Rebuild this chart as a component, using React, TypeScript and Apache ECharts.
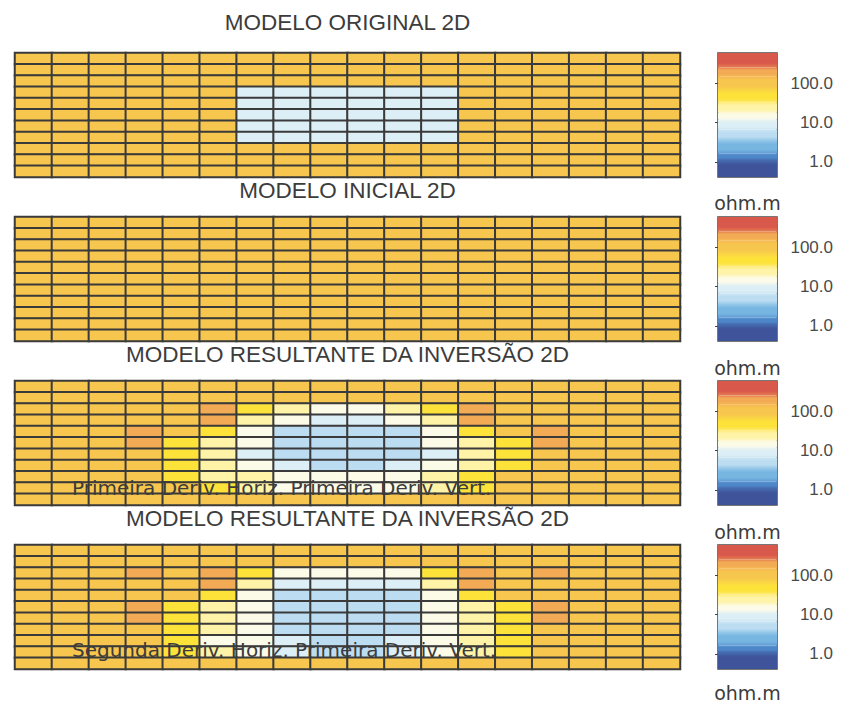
import React, { useEffect, useRef } from "react";
import * as echarts from "echarts";

// Cell labels along the profile (columns) and depth (rows)
const columnLabels = ["1", "2", "3", "4", "5", "6", "7", "8", "9", "10", "11", "12", "13", "14", "15", "16", "17", "18"];
const rowLabels = ["1", "2", "3", "4", "5", "6", "7", "8", "9", "10", "11"];

// Resistivity models, ohm.m, one row per depth level (top to bottom)
const originalModel: number[][] = [
  [100, 100, 100, 100, 100, 100, 100, 100, 100, 100, 100, 100, 100, 100, 100, 100, 100, 100],
  [100, 100, 100, 100, 100, 100, 100, 100, 100, 100, 100, 100, 100, 100, 100, 100, 100, 100],
  [100, 100, 100, 100, 100, 100, 100, 100, 100, 100, 100, 100, 100, 100, 100, 100, 100, 100],
  [100, 100, 100, 100, 100, 100, 10, 10, 10, 10, 10, 10, 100, 100, 100, 100, 100, 100],
  [100, 100, 100, 100, 100, 100, 10, 10, 10, 10, 10, 10, 100, 100, 100, 100, 100, 100],
  [100, 100, 100, 100, 100, 100, 10, 10, 10, 10, 10, 10, 100, 100, 100, 100, 100, 100],
  [100, 100, 100, 100, 100, 100, 10, 10, 10, 10, 10, 10, 100, 100, 100, 100, 100, 100],
  [100, 100, 100, 100, 100, 100, 10, 10, 10, 10, 10, 10, 100, 100, 100, 100, 100, 100],
  [100, 100, 100, 100, 100, 100, 100, 100, 100, 100, 100, 100, 100, 100, 100, 100, 100, 100],
  [100, 100, 100, 100, 100, 100, 100, 100, 100, 100, 100, 100, 100, 100, 100, 100, 100, 100],
  [100, 100, 100, 100, 100, 100, 100, 100, 100, 100, 100, 100, 100, 100, 100, 100, 100, 100],
];

const initialModel: number[][] = [
  [100, 100, 100, 100, 100, 100, 100, 100, 100, 100, 100, 100, 100, 100, 100, 100, 100, 100],
  [100, 100, 100, 100, 100, 100, 100, 100, 100, 100, 100, 100, 100, 100, 100, 100, 100, 100],
  [100, 100, 100, 100, 100, 100, 100, 100, 100, 100, 100, 100, 100, 100, 100, 100, 100, 100],
  [100, 100, 100, 100, 100, 100, 100, 100, 100, 100, 100, 100, 100, 100, 100, 100, 100, 100],
  [100, 100, 100, 100, 100, 100, 100, 100, 100, 100, 100, 100, 100, 100, 100, 100, 100, 100],
  [100, 100, 100, 100, 100, 100, 100, 100, 100, 100, 100, 100, 100, 100, 100, 100, 100, 100],
  [100, 100, 100, 100, 100, 100, 100, 100, 100, 100, 100, 100, 100, 100, 100, 100, 100, 100],
  [100, 100, 100, 100, 100, 100, 100, 100, 100, 100, 100, 100, 100, 100, 100, 100, 100, 100],
  [100, 100, 100, 100, 100, 100, 100, 100, 100, 100, 100, 100, 100, 100, 100, 100, 100, 100],
  [100, 100, 100, 100, 100, 100, 100, 100, 100, 100, 100, 100, 100, 100, 100, 100, 100, 100],
  [100, 100, 100, 100, 100, 100, 100, 100, 100, 100, 100, 100, 100, 100, 100, 100, 100, 100],
];

// Inversion with first horizontal / first vertical derivative smoothing
const inversionFirstDeriv: number[][] = [
  [100, 100, 100, 100, 100, 100, 100, 100, 100, 100, 100, 100, 100, 100, 100, 100, 100, 100],
  [100, 100, 100, 100, 100, 100, 100, 100, 100, 100, 100, 100, 100, 100, 100, 100, 100, 100],
  [100, 100, 100, 100, 100, 160, 45, 25, 15, 15, 25, 45, 160, 100, 100, 100, 100, 100],
  [100, 100, 100, 100, 100, 160, 25, 12, 9, 9, 12, 25, 160, 100, 100, 100, 100, 100],
  [100, 100, 100, 170, 100, 45, 14, 6, 5, 5, 6, 14, 45, 100, 170, 100, 100, 100],
  [100, 100, 100, 170, 45, 25, 13, 5, 5, 5, 5, 13, 25, 45, 170, 100, 100, 100],
  [100, 100, 100, 100, 45, 25, 10, 5, 5, 5, 5, 10, 25, 45, 100, 100, 100, 100],
  [100, 100, 100, 100, 50, 25, 14, 8, 5, 5, 8, 14, 25, 50, 100, 100, 100, 100],
  [100, 100, 100, 100, 60, 30, 25, 15, 14, 14, 15, 25, 45, 100, 100, 100, 100, 100],
  [100, 100, 100, 100, 100, 45, 25, 18, 16, 16, 18, 25, 45, 100, 100, 100, 100, 100],
  [100, 100, 100, 100, 100, 100, 100, 100, 100, 100, 100, 100, 100, 100, 100, 100, 100, 100],
];

// Inversion with second horizontal / first vertical derivative smoothing
const inversionSecondDeriv: number[][] = [
  [100, 100, 100, 100, 100, 100, 100, 100, 100, 100, 100, 100, 100, 100, 100, 100, 100, 100],
  [100, 100, 100, 100, 100, 100, 100, 100, 100, 100, 100, 100, 100, 100, 100, 100, 100, 100],
  [100, 100, 100, 150, 100, 160, 45, 18, 15, 15, 18, 45, 160, 100, 150, 100, 100, 100],
  [100, 100, 100, 100, 100, 160, 25, 10, 8, 8, 10, 25, 160, 100, 100, 100, 100, 100],
  [100, 100, 100, 100, 100, 45, 14, 6, 4, 4, 6, 14, 45, 100, 100, 100, 100, 100],
  [100, 100, 100, 170, 40, 25, 14, 5, 4, 4, 5, 14, 25, 40, 170, 100, 100, 100],
  [100, 100, 100, 170, 45, 25, 13, 5, 5, 5, 5, 13, 25, 50, 170, 100, 100, 100],
  [100, 100, 100, 100, 45, 20, 14, 6, 5, 5, 6, 14, 25, 45, 100, 100, 100, 100],
  [100, 100, 100, 100, 45, 16, 14, 8, 6, 6, 8, 14, 25, 45, 100, 100, 100, 100],
  [100, 100, 100, 100, 45, 25, 15, 8, 6, 6, 8, 15, 25, 45, 100, 100, 100, 100],
  [100, 100, 100, 100, 100, 100, 100, 100, 100, 100, 100, 100, 100, 100, 100, 100, 100, 100],
];

const panelTitles = [
  "MODELO ORIGINAL 2D",
  "MODELO INICIAL 2D",
  "MODELO RESULTANTE DA INVERSÃO 2D",
  "MODELO RESULTANTE DA INVERSÃO 2D",
];
const panelNotes = ["", "", "Primeira Deriv. Horiz. Primeira Deriv. Vert.", "Segunda Deriv. Horiz. Primeira Deriv. Vert."];
const unitLabel = "ohm.m";

// Colour scale: band edges in log10(ohm.m) and the colour of each band
const bandEdges = [-0.38, 0.05, 0.22, 0.56, 0.82, 1.07, 1.26, 1.51, 1.82, 2.17, 2.39, 2.76];
const bandColors = [
  "#3e5399", "#4d86c9", "#78b6e2", "#bcddf1", "#dceef6", "#fcfbe8",
  "#fef3a6", "#fde23a", "#f7c64e", "#f3aa55", "#d9584c",
];
const colorbarTicks = [1, 10, 100];

const models = [originalModel, initialModel, inversionFirstDeriv, inversionSecondDeriv];

// Layout
const panelTops = [53, 217, 381, 545];
const panelLeft = 15;
const panelWidth = 665;
const panelHeight = 124;
const barLeft = 718;
const barWidth = 59;
const titleY = [22, 190, 354, 518];
const noteY = [0, 0, 488, 650];
const unitY = [203, 368, 532, 693];

const textColor = "#3c3c3c";

export default function App() {
  const ref = useRef<HTMLDivElement>(null);

  useEffect(() => {
    if (!ref.current) return;
    const chart = echarts.init(ref.current, undefined, { renderer: "svg" });

    const grids: any[] = [];
    const xAxes: any[] = [];
    const yAxes: any[] = [];
    const series: any[] = [];

    models.forEach((rows, i) => {
      grids.push({
        left: panelLeft, top: panelTops[i], width: panelWidth, height: panelHeight,
        show: true, borderColor: "#6a6a6a", borderWidth: 1, backgroundColor: "transparent",
      });
      xAxes.push({ gridIndex: i, type: "category", data: columnLabels, show: false });
      yAxes.push({ gridIndex: i, type: "category", data: rowLabels, inverse: true, show: false });
      series.push({
        type: "heatmap",
        xAxisIndex: i,
        yAxisIndex: i,
        data: rows.flatMap((row, r) => row.map((v, c) => [c, r, Math.log10(v)])),
        itemStyle: { borderColor: "#3a3a3a", borderWidth: 2 },
        emphasis: { disabled: true },
        silent: true,
      });
    });

    // Each colour-bar band blends softly into its neighbours at the edges
    const bandFill = (k: number) => {
      const own = bandColors[k];
      const above = bandColors[Math.min(k + 1, bandColors.length - 1)];
      const below = bandColors[Math.max(k - 1, 0)];
      return new echarts.graphic.LinearGradient(0, 0, 0, 1, [
        { offset: 0, color: echarts.color.lerp(0.5, [own, above]) as string },
        { offset: 0.3, color: own },
        { offset: 0.7, color: own },
        { offset: 1, color: echarts.color.lerp(0.5, [own, below]) as string },
      ]);
    };

    const tickLogs = colorbarTicks.map((t) => Math.log10(t));
    models.forEach((_, i) => {
      const g = models.length + i;
      grids.push({
        left: barLeft, top: panelTops[i], width: barWidth, height: panelHeight,
        show: true, borderColor: "#4a4a4a", borderWidth: 1.5, backgroundColor: "transparent",
      });
      xAxes.push({ gridIndex: g, type: "value", min: 0, max: 1, show: false });
      yAxes.push({
        gridIndex: g,
        type: "value",
        min: bandEdges[0],
        max: bandEdges[bandEdges.length - 1],
        position: "right",
        axisLine: { show: false },
        splitLine: { show: false },
        axisTick: { show: true, inside: true, length: 3, customValues: tickLogs, lineStyle: { color: "#444" } },
        axisLabel: {
          customValues: tickLogs,
          formatter: (v: number) => (Number.isInteger(Math.round(v * 1000) / 1000) ? Math.pow(10, v).toFixed(1) : ""),
          align: "right",
          margin: 56,
          fontSize: 17,
          color: "#4a4a4a",
          fontFamily: "'Liberation Sans', Arial, sans-serif",
        },
      });
      series.push({
        type: "custom",
        xAxisIndex: g,
        yAxisIndex: g,
        silent: true,
        data: bandColors.map((_, k) => [bandEdges[k], bandEdges[k + 1]]),
        renderItem: (params: any, api: any) => {
          const lo = api.value(0);
          const hi = api.value(1);
          const tl = api.coord([0, hi]);
          const br = api.coord([1, lo]);
          return {
            type: "rect",
            shape: { x: tl[0], y: tl[1], width: br[0] - tl[0], height: br[1] - tl[1] },
            style: { fill: bandFill(params.dataIndex) },
          };
        },
      });
    });

    const graphic: any[] = [];
    panelTitles.forEach((t, i) => {
      graphic.push({
        type: "text",
        x: panelLeft + panelWidth / 2,
        y: titleY[i],
        style: {
          text: t,
          fontSize: 22.5,
          fontFamily: "'Liberation Sans', Arial, sans-serif",
          fill: textColor,
          align: "center",
          verticalAlign: "middle",
        },
      });
    });
    panelNotes.forEach((t, i) => {
      if (!t) return;
      graphic.push({
        type: "text",
        x: 72,
        y: noteY[i],
        z: 10,
        style: {
          text: t,
          fontSize: 20,
          fontFamily: "'DejaVu Sans', sans-serif",
          fill: textColor,
          align: "left",
          verticalAlign: "middle",
        },
      });
    });
    unitY.forEach((y) => {
      graphic.push({
        type: "text",
        x: barLeft + barWidth / 2,
        y,
        style: {
          text: unitLabel,
          fontSize: 19,
          fontFamily: "'DejaVu Sans', sans-serif",
          fill: textColor,
          align: "center",
          verticalAlign: "middle",
        },
      });
    });

    const pieces = bandColors.map((color, k) => ({ gte: bandEdges[k], lt: bandEdges[k + 1], color }));

    chart.setOption({
      animation: false,
      backgroundColor: "#ffffff",
      grid: grids,
      xAxis: xAxes,
      yAxis: yAxes,
      visualMap: {
        type: "piecewise",
        show: false,
        seriesIndex: [0, 1, 2, 3],
        dimension: 2,
        pieces,
      },
      series,
      graphic,
    });

    return () => chart.dispose();
  }, []);

  return (
    <div
      ref={ref}
      style={{ position: "absolute", left: 0, top: 0, width: 853, height: 703 }}
    />
  );
}
